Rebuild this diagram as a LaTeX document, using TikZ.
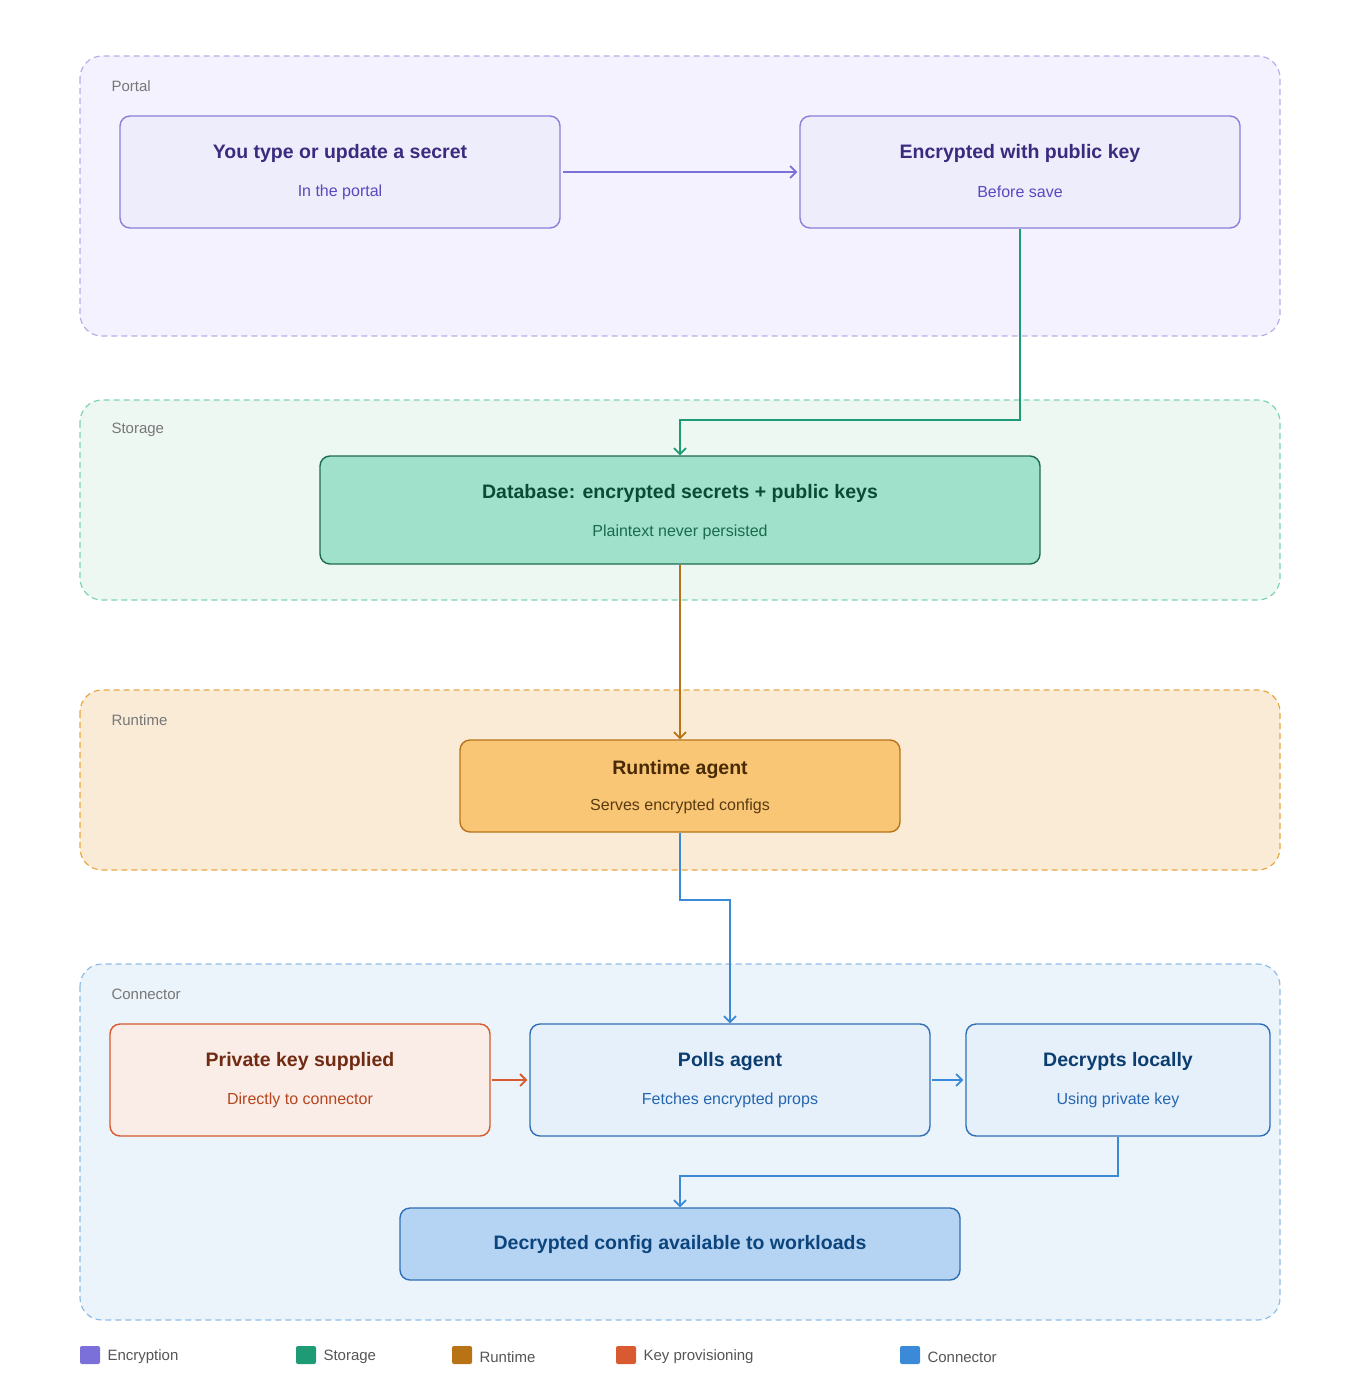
\documentclass[tikz,border=0pt]{standalone}
\usepackage{fontspec}
\setmainfont{Liberation Sans}
\usetikzlibrary{arrows.meta}
\definecolor{pgF}{HTML}{F4F2FE}\definecolor{pgB}{HTML}{B8AEEA}
\definecolor{pbF}{HTML}{EEEDFC}\definecolor{pbB}{HTML}{8B7FD9}\definecolor{pT}{HTML}{3B2A7E}\definecolor{pS}{HTML}{5A48C0}\definecolor{pA}{HTML}{7B6FD9}
\definecolor{sgF}{HTML}{EEF8F3}\definecolor{sgB}{HTML}{7FD4B0}
\definecolor{sbF}{HTML}{9FE1CB}\definecolor{sbB}{HTML}{1E6B50}\definecolor{sT}{HTML}{0B4A36}\definecolor{sS}{HTML}{1B6B4E}\definecolor{sA}{HTML}{1E9A74}
\definecolor{rgF}{HTML}{FAEBD7}\definecolor{rgB}{HTML}{E8A840}
\definecolor{rbF}{HTML}{F8C674}\definecolor{rbB}{HTML}{B8741A}\definecolor{rT}{HTML}{4A2A05}\definecolor{rS}{HTML}{5A3A10}\definecolor{rA}{HTML}{B87314}
\definecolor{cgF}{HTML}{EBF3FB}\definecolor{cgB}{HTML}{90BDE6}
\definecolor{cbF}{HTML}{E6F0FA}\definecolor{cbB}{HTML}{2F6FB5}\definecolor{cT}{HTML}{0C3D70}\definecolor{cS}{HTML}{2566B0}\definecolor{cA}{HTML}{3A8AD8}
\definecolor{kF}{HTML}{FAECE7}\definecolor{kB}{HTML}{D85A30}\definecolor{kT}{HTML}{712B13}\definecolor{kS}{HTML}{B5461E}
\definecolor{fF}{HTML}{B5D4F4}\definecolor{fT}{HTML}{0C447C}
\definecolor{glab}{HTML}{777777}\definecolor{legT}{HTML}{555555}
\begin{document}
\begin{tikzpicture}[x=1pt,y=-1pt,
 grp/.style={draw,dashed,dash pattern=on 6pt off 4pt,line width=1.2pt,rounded corners=22pt},
 box/.style={draw,line width=1.4pt,rounded corners=10pt},
 glabel/.style={anchor=west,text=glab,font=\fontsize{15pt}{18pt}\selectfont},
 ttl/.style={font=\fontsize{19.5pt}{23pt}\selectfont\bfseries},
 sub/.style={font=\fontsize{16pt}{19pt}\selectfont},
 arr/.style={line width=1.8pt,-{Straight Barb[length=6pt,width=12pt]}},
 leg/.style={anchor=west,text=legT,font=\fontsize{15pt}{18pt}\selectfont}]
\useasboundingbox (0,0) rectangle (1360,1400);
% groups
\draw[grp,pgB,fill=pgF] (80,56) rectangle (1280,336);
\node[glabel] (gp) at (108,86) {Portal};
\draw[grp,sgB,fill=sgF] (80,400) rectangle (1280,600);
\node[glabel] (gs) at (108,430) {Storage};
\draw[grp,rgB,fill=rgF] (80,690) rectangle (1280,870);
\node[glabel] (gr) at (108,720) {Runtime};
\draw[grp,cgB,fill=cgF] (80,964) rectangle (1280,1320);
\node[glabel] (gc) at (108,994) {Connector};
% boxes
\node[box,draw=pbB,fill=pbF,minimum width=440pt,minimum height=112pt] (A) at (340,172) {};
\node[ttl,text=pT] (At) at (340,153) {You type or update a secret};
\node[sub,text=pS] (As) at (340,192) {In the portal};
\node[box,draw=pbB,fill=pbF,minimum width=440pt,minimum height=112pt] (B) at (1020,172) {};
\node[ttl,text=pT] (Bt) at (1020,153) {Encrypted with public key};
\node[sub,text=pS] (Bs) at (1020,192) {Before save};
\node[box,draw=sbB,fill=sbF,minimum width=720pt,minimum height=108pt] (D) at (680,510) {};
\node[ttl,text=sT] (Dt) at (680,493) {Database: encrypted secrets + public keys};
\node[sub,text=sS] (Ds) at (680,532) {Plaintext never persisted};
\node[box,draw=rbB,fill=rbF,minimum width=440pt,minimum height=92pt] (R) at (680,786) {};
\node[ttl,text=rT] (Rt) at (680,769) {Runtime agent};
\node[sub,text=rS] (Rs) at (680,806) {Serves encrypted configs};
\node[box,draw=kB,fill=kF,minimum width=380pt,minimum height=112pt] (K) at (300,1080) {};
\node[ttl,text=kT] (Kt) at (300,1061) {Private key supplied};
\node[sub,text=kS] (Ks) at (300,1100) {Directly to connector};
\node[box,draw=cbB,fill=cbF,minimum width=400pt,minimum height=112pt] (P) at (730,1080) {};
\node[ttl,text=cT] (Pt) at (730,1061) {Polls agent};
\node[sub,text=cS] (Ps) at (730,1100) {Fetches encrypted props};
\node[box,draw=cbB,fill=cbF,minimum width=304pt,minimum height=112pt] (L) at (1118,1080) {};
\node[ttl,text=cT] (Lt) at (1118,1061) {Decrypts locally};
\node[sub,text=cS] (Ls) at (1118,1100) {Using private key};
\node[box,draw=cbB,fill=fF,minimum width=560pt,minimum height=72pt] (F) at (680,1244) {};
\node[ttl,text=fT] (Ft) at (680,1244) {Decrypted config available to workloads};
% edges
\draw[arr,pA] (A.east) ++(2,0) -- ([xshift=-2pt]B.west);
\coordinate (b1) at (1020,420); \coordinate (b2) at (680,420);
\draw[arr,sA] (B.south) -- (b1) -- (b2) -- (D.north);
\draw[arr,rA] (D.south) -- (R.north);
\coordinate (r1) at (680,900); \coordinate (r2) at (730,900);
\draw[arr,cA] (R.south) -- (r1) -- (r2) -- (P.north);
\draw[arr,kB] ([xshift=1pt]K.east) -- ([xshift=-2pt]P.west);
\draw[arr,cA] ([xshift=1pt]P.east) -- ([xshift=-2pt]L.west);
\coordinate (l1) at (1118,1176); \coordinate (l2) at (680,1176);
\draw[arr,cA] (L.south) -- (l1) -- (l2) -- (F.north);
% legend
\fill[pA,rounded corners=2pt] (80,1346) rectangle (100,1364); \node[leg] (l_a) at (104,1357) {Encryption};
\fill[sA,rounded corners=2pt] (296,1346) rectangle (316,1364); \node[leg] (l_b) at (320,1357) {Storage};
\fill[rA,rounded corners=2pt] (452,1346) rectangle (472,1364); \node[leg] (l_c) at (476,1357) {Runtime};
\fill[kB,rounded corners=2pt] (616,1346) rectangle (636,1364); \node[leg] (l_d) at (640,1357) {Key provisioning};
\fill[cA,rounded corners=2pt] (900,1346) rectangle (920,1364); \node[leg] (l_e) at (924,1357) {Connector};
\end{tikzpicture}
\end{document}
